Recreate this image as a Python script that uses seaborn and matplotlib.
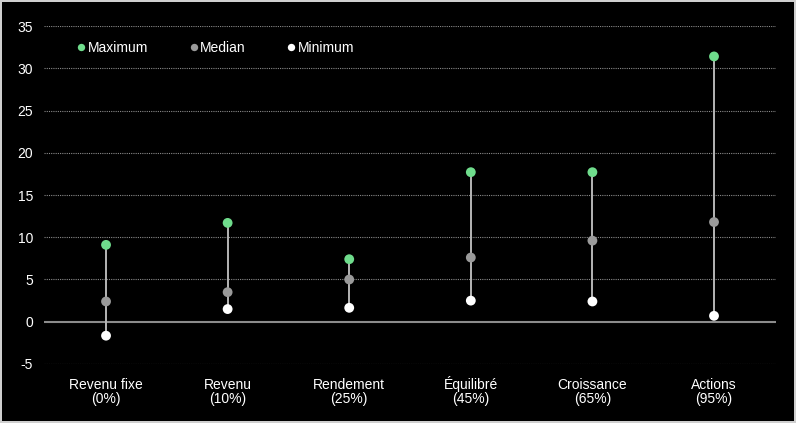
import matplotlib
matplotlib.use("Agg")
import matplotlib.pyplot as plt
import matplotlib.transforms as mtransforms
import numpy as np
import pandas as pd
import seaborn as sns

# valeurs
categories = ["Revenu fixe\n(0%)", "Revenu\n(10%)", "Rendement\n(25%)",
              "Équilibré\n(45%)", "Croissance\n(65%)", "Actions\n(95%)"]
maximum = [9.1, 11.7, 7.4, 17.7, 17.7, 31.4]
median = [2.4, 3.5, 5.0, 7.6, 9.6, 11.8]
minimum = [-1.65, 1.5, 1.65, 2.5, 2.4, 0.7]
yticks = list(range(-5, 36, 5))

colors = {"Maximum": "#6fdc8c", "Median": "#9a9a9a", "Minimum": "#ffffff"}

df = pd.DataFrame({"cat": categories, "Maximum": maximum,
                   "Median": median, "Minimum": minimum})
long = df.melt(id_vars="cat", var_name="stat", value_name="value")
long["x"] = long["cat"].map({c: i for i, c in enumerate(categories)})

sns.set_theme(style="dark")
plt.rcParams["font.family"] = ["Liberation Sans", "DejaVu Sans"]

fig = plt.figure(figsize=(7.96, 4.23), dpi=100, facecolor="black")
fig.patch.set_edgecolor("#cfcfcf")
fig.patch.set_linewidth(1.5)
ax = fig.add_axes([0.0553, 0.1395, 0.9196, 0.799])
ax.set_facecolor("black")

xs = np.arange(len(categories))
ax.vlines(xs, df["Minimum"], df["Maximum"], color="#b5b5b5", lw=1.4, zorder=2)

sns.scatterplot(data=long, x="x", y="value", hue="stat", palette=colors,
                hue_order=["Maximum", "Median", "Minimum"], s=50,
                edgecolor="none", ax=ax, zorder=3)

ax.set_xlim(-0.51, 5.51)
ax.set_ylim(-5, 35)
ax.set_yticks(yticks)
ax.set_yticklabels([str(v) for v in yticks])
ax.set_xticks(xs)
ax.set_xticklabels([])
ax.tick_params(colors="white", labelsize=10, length=0)
ax.tick_params(axis="y", pad=8)
ax.set_xlabel("")
ax.set_ylabel("")
for sp in ax.spines.values():
    sp.set_visible(False)

# étiquettes de catégories alignées sur la ligne de base
trans = mtransforms.blended_transform_factory(ax.transData, ax.transAxes)
for x, lab in zip(xs, categories):
    ax.text(x, -0.116, lab, transform=trans, ha="center", va="baseline",
            color="white", fontsize=10, linespacing=1.02)

for v in yticks:
    if v == 0:
        ax.axhline(0, color="#8c8c8c", lw=1.5, zorder=1)
    else:
        ax.axhline(v, color="#8a8a8a", lw=0.8, ls=(0, (1, 1)), zorder=1)

leg = ax.legend(loc="upper left", bbox_to_anchor=(0.045, 0.956), ncol=3,
                frameon=False, fontsize=10, handletextpad=0.15,
                handlelength=0.6, columnspacing=3.0, markerscale=0.75,
                borderpad=0, borderaxespad=0)
for t in leg.get_texts():
    t.set_color("white")

fig.savefig("out.png", dpi=100, facecolor="black", edgecolor=fig.patch.get_edgecolor())
